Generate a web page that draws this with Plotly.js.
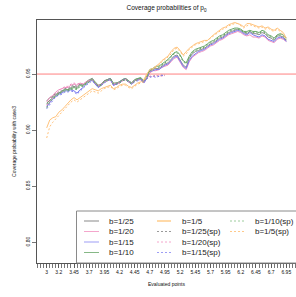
<!DOCTYPE html>
<html>
<head>
<meta charset="utf-8">
<script src="https://cdn.plot.ly/plotly-3.0.1.min.js"></script>
<style>html,body{margin:0;padding:0;background:#fff;}#chart{width:296px;height:297px;}</style>
</head>
<body>
<div id="chart"></div>
<script>
// Evaluated points (x)
const evalPoints = [3.00,3.05,3.10,3.15,3.20,3.25,3.30,3.35,3.40,3.45,
3.50,3.55,3.60,3.65,3.70,3.75,3.80,3.85,3.90,3.95,
4.00,4.05,4.10,4.15,4.20,4.25,4.30,4.35,4.40,4.45,
4.50,4.55,4.60,4.65,4.70,4.75,4.80,4.85,4.90,4.95,
5.00,5.05,5.10,5.15,5.20,5.25,5.30,5.35,5.40,5.45,
5.50,5.55,5.60,5.65,5.70,5.75,5.80,5.85,5.90,5.95,
6.00,6.05,6.10,6.15,6.20,6.25,6.30,6.35,6.40,6.45,
6.50,6.55,6.60,6.65,6.70,6.75,6.80,6.85,6.90,6.95];

const xTickVals = [3,3.2,3.45,3.7,3.95,4.2,4.45,4.7,4.95,5.2,5.45,5.7,5.95,6.2,6.45,6.7,6.95];
const xTickText = ["3","3.2","3.45","3.7","3.95","4.2","4.45","4.7","4.95","5.2","5.45","5.7","5.95","6.2","6.45","6.7","6.95"];
const yTickVals = [0.80,0.85,0.90,0.95];
const yTickText = ["0.80","0.85","0.90","0.95"];
const nominal = 0.95;

const b25 = [0.926,0.929,0.930,0.932,0.933,0.934,0.937,0.936,0.938,0.939,
0.938,0.941,0.940,0.943,0.945,0.946,0.942,0.939,0.941,0.944,
0.945,0.946,0.941,0.942,0.943,0.945,0.946,0.944,0.942,0.945,
0.946,0.946,0.943,0.947,0.953,0.954,0.955,0.955,0.957,0.959,
0.960,0.963,0.966,0.967,0.963,0.958,0.956,0.964,0.968,0.970,
0.971,0.972,0.973,0.975,0.977,0.978,0.980,0.982,0.983,0.985,
0.987,0.988,0.989,0.990,0.989,0.987,0.986,0.988,0.986,0.986,
0.985,0.987,0.986,0.983,0.982,0.980,0.984,0.984,0.983,0.980];

const b20 = [0.925,0.929,0.931,0.934,0.936,0.937,0.938,0.938,0.940,0.941,
0.940,0.942,0.941,0.943,0.944,0.945,0.941,0.939,0.940,0.943,
0.944,0.945,0.940,0.941,0.942,0.944,0.945,0.943,0.941,0.944,
0.945,0.945,0.942,0.946,0.951,0.953,0.953,0.954,0.956,0.957,
0.958,0.961,0.964,0.965,0.961,0.956,0.954,0.961,0.965,0.967,
0.969,0.970,0.971,0.973,0.975,0.976,0.978,0.980,0.981,0.983,
0.985,0.986,0.987,0.988,0.987,0.985,0.984,0.985,0.983,0.983,
0.982,0.984,0.983,0.980,0.979,0.978,0.981,0.982,0.981,0.979];

const b15 = [0.921,0.925,0.928,0.930,0.932,0.933,0.935,0.935,0.936,0.935,
0.933,0.936,0.938,0.941,0.943,0.945,0.941,0.938,0.940,0.943,
0.945,0.946,0.940,0.941,0.943,0.945,0.946,0.943,0.941,0.944,
0.945,0.946,0.942,0.946,0.952,0.953,0.954,0.954,0.956,0.958,
0.959,0.962,0.965,0.966,0.962,0.957,0.955,0.962,0.966,0.968,
0.970,0.971,0.972,0.974,0.976,0.977,0.979,0.981,0.982,0.984,
0.986,0.987,0.988,0.989,0.988,0.986,0.985,0.987,0.985,0.984,
0.983,0.985,0.984,0.981,0.980,0.979,0.982,0.983,0.982,0.979];

const b10 = [0.924,0.927,0.929,0.931,0.933,0.935,0.936,0.936,0.937,0.938,
0.937,0.940,0.940,0.942,0.944,0.946,0.943,0.940,0.941,0.944,
0.945,0.946,0.942,0.942,0.943,0.945,0.946,0.944,0.942,0.945,
0.946,0.947,0.944,0.948,0.954,0.955,0.957,0.957,0.959,0.961,
0.963,0.966,0.969,0.970,0.967,0.962,0.960,0.966,0.970,0.972,
0.973,0.974,0.975,0.977,0.979,0.980,0.982,0.984,0.985,0.987,
0.989,0.990,0.991,0.991,0.990,0.988,0.988,0.989,0.988,0.988,
0.987,0.989,0.988,0.985,0.984,0.982,0.985,0.986,0.985,0.982];

const b5 = [0.902,0.909,0.911,0.912,0.916,0.918,0.921,0.924,0.927,0.929,
0.927,0.929,0.931,0.933,0.935,0.937,0.936,0.935,0.937,0.938,
0.939,0.940,0.937,0.938,0.940,0.941,0.941,0.939,0.938,0.940,
0.942,0.943,0.945,0.950,0.954,0.955,0.957,0.959,0.962,0.964,
0.966,0.970,0.973,0.974,0.971,0.967,0.970,0.973,0.975,0.977,
0.978,0.979,0.980,0.980,0.983,0.985,0.987,0.989,0.991,0.992,
0.994,0.995,0.996,0.995,0.994,0.992,0.995,0.995,0.994,0.993,
0.992,0.993,0.991,0.992,0.990,0.989,0.991,0.989,0.987,0.982];

const b25sp = [0.923,0.927,0.930,0.933,0.934,0.935,0.937,0.937,0.939,0.940,
0.939,0.941,0.940,0.943,0.944,0.946,0.942,0.940,0.941,0.944,
0.945,0.946,0.941,0.942,0.943,0.945,0.946,0.944,0.942,0.944,
0.945,0.946,0.944,0.946,0.948,0.948,0.949,0.948,0.949,0.949];

const b20sp = [0.922,0.926,0.929,0.932,0.935,0.937,0.939,0.939,0.941,0.942,
0.941,0.942,0.941,0.943,0.944,0.945,0.942,0.940,0.941,0.943,
0.944,0.945,0.941,0.942,0.942,0.944,0.945,0.943,0.942,0.944,
0.945,0.945,0.944,0.947,0.948,0.948,0.948,0.949,0.948,0.949];

const b15sp = [0.919,0.923,0.927,0.930,0.931,0.932,0.934,0.934,0.935,0.934,
0.932,0.935,0.937,0.940,0.942,0.944,0.941,0.938,0.940,0.942,
0.944,0.945,0.940,0.941,0.942,0.944,0.945,0.943,0.941,0.943,
0.944,0.945,0.943,0.946,0.947,0.948,0.947,0.948,0.949,0.948];

const b10sp = [0.920,0.925,0.928,0.930,0.932,0.934,0.935,0.935,0.936,0.937,
0.936,0.939,0.939,0.941,0.943,0.945,0.942,0.939,0.940,0.943,
0.944,0.945,0.941,0.941,0.942,0.944,0.945,0.943,0.941,0.944,
0.945,0.946,0.943,0.947,0.953,0.954,0.956,0.956,0.958,0.960,
0.962,0.965,0.968,0.969,0.966,0.961,0.959,0.965,0.969,0.971,
0.972,0.973,0.974,0.976,0.978,0.979,0.981,0.983,0.984,0.986,
0.988,0.989,0.990,0.990,0.989,0.987,0.987,0.988,0.987,0.987,
0.986,0.988,0.987,0.984,0.983,0.981,0.984,0.985,0.984,0.981];

const b5sp = [0.893,0.903,0.907,0.910,0.913,0.916,0.919,0.922,0.925,0.927,
0.925,0.927,0.929,0.931,0.933,0.935,0.934,0.933,0.935,0.937,
0.938,0.939,0.936,0.937,0.939,0.940,0.940,0.938,0.937,0.939,
0.941,0.942,0.943,0.949,0.952,0.954,0.956,0.958,0.961,0.963,
0.965,0.968,0.972,0.973,0.970,0.966,0.968,0.972,0.974,0.976,
0.977,0.978,0.979,0.980,0.982,0.984,0.986,0.988,0.990,0.991,
0.993,0.994,0.995,0.995,0.993,0.991,0.993,0.994,0.993,0.992,
0.991,0.992,0.990,0.991,0.989,0.988,0.990,0.988,0.985,0.981];

const seriesNames = ["b=1/25","b=1/20","b=1/15","b=1/10","b=1/5",
  "b=1/25(sp)","b=1/20(sp)","b=1/15(sp)","b=1/10(sp)","b=1/5(sp)"];
const seriesValues = [b25,b20,b15,b10,b5,b25sp,b20sp,b15sp,b10sp,b5sp];
const seriesColors = ["#8c8c8c","#ef8fbf","#7b7bf0","#6aa86a","#ffc27a",
  "#8c8c8c","#ef8fbf","#7b7bf0","#6aa86a","#ffc27a"];
const legendColors = ["#c4c4c4","#f4a6cc","#9d9df5","#86b886","#ffd9a8",
  "#9a9a9a","#f4a6cc","#9d9df5","#9ccc9c","#ffc98a"];
const seriesDash = ["solid","solid","solid","solid","solid",
  "2px,2px","2px,2px","2px,2px","2px,2px","2px,2px"];
const seriesWidth = [1,1,1,1,1,1,1,1,1,1];
const legendWidth = [2,1,1,1,2,1,1,1,1,1];

const traces = seriesNames.map((n,i)=>({
  type:'scatter', mode:'lines', name:n,
  x: evalPoints.slice(0, seriesValues[i].length), y: seriesValues[i],
  line:{color:seriesColors[i], width:seriesWidth[i], dash:seriesDash[i]},
  showlegend:false, hoverinfo:'skip'
}));

// layout geometry (pixels)
const W=296,H=297,ML=37,MR=0,MT=20,MB=34;
const PW=W-ML-MR, PH=H-MT-MB;
const xp = px => (px-ML)/PW;
const yp = py => (H-MB-py)/PH;

const shapes = [
  {type:'line', xref:'paper', yref:'y', x0:0, x1:1, y0:nominal, y1:nominal,
   line:{color:'#ff8080', width:1}, layer:'below'},
  {type:'rect', xref:'paper', yref:'paper', x0:xp(76.5), x1:xp(310), y0:0, y1:yp(211),
   line:{color:'#8a8a8a', width:1}, fillcolor:'white', layer:'above'}
];
const annotations = [];
const colX = [[84,99,107],[157,171,180],[230,245,253]];
const rowY = [221,231.5,242,252.5];
seriesNames.forEach((n,i)=>{
  const c = Math.floor(i/4), r = i%4;
  const [s0,s1,tx] = colX[c];
  shapes.push({type:'line', xref:'paper', yref:'paper', x0:xp(s0), x1:xp(s1), y0:yp(rowY[r]), y1:yp(rowY[r]),
    line:{color:legendColors[i], width:legendWidth[i], dash:seriesDash[i]}, layer:'above'});
  annotations.push({xref:'paper', yref:'paper', x:xp(tx), y:yp(rowY[r]), xanchor:'left', yanchor:'middle',
    text:n, showarrow:false, font:{size:8, color:'#222'}});
});

const layout = {
  width:W, height:H, margin:{l:ML,r:MR,t:MT,b:MB,pad:0},
  paper_bgcolor:'white', plot_bgcolor:'white',
  font:{family:'Liberation Sans, Arial, sans-serif', color:'#111'},
  title:{text:'Coverage probabilities of p<sub>0</sub>', font:{size:6.5}, x:0.5, xref:'paper',
         y:1-8/H, yref:'container', yanchor:'middle'},
  xaxis:{range:[2.84,7.11], tickmode:'array', tickvals:xTickVals, ticktext:xTickText,
    ticks:'outside', ticklen:4, tickwidth:0.8, tickcolor:'#555', tickfont:{size:5},
    minor:{tickmode:'linear', tick0:3, dtick:0.05, ticks:'outside', ticklen:4, tickwidth:0.8, tickcolor:'#555', showgrid:false},
    showgrid:false, zeroline:false, showline:true, mirror:true, linecolor:'#555', linewidth:1,
    title:{text:'Evaluated points', font:{size:5}, standoff:8}},
  yaxis:{range:[0.7815,0.9982], tickmode:'array', tickvals:yTickVals, ticktext:yTickText, tickangle:-90,
    ticks:'outside', ticklen:4, tickwidth:0.8, tickcolor:'#555', tickfont:{size:5},
    showgrid:false, zeroline:false, showline:true, mirror:true, linecolor:'#555', linewidth:1,
    title:{text:'Coverage probability with case3', font:{size:5}, standoff:8}},
  showlegend:false, shapes:shapes, annotations:annotations
};

Plotly.newPlot('chart', traces, layout, {displayModeBar:false, staticPlot:true});
</script>
</body>
</html>
